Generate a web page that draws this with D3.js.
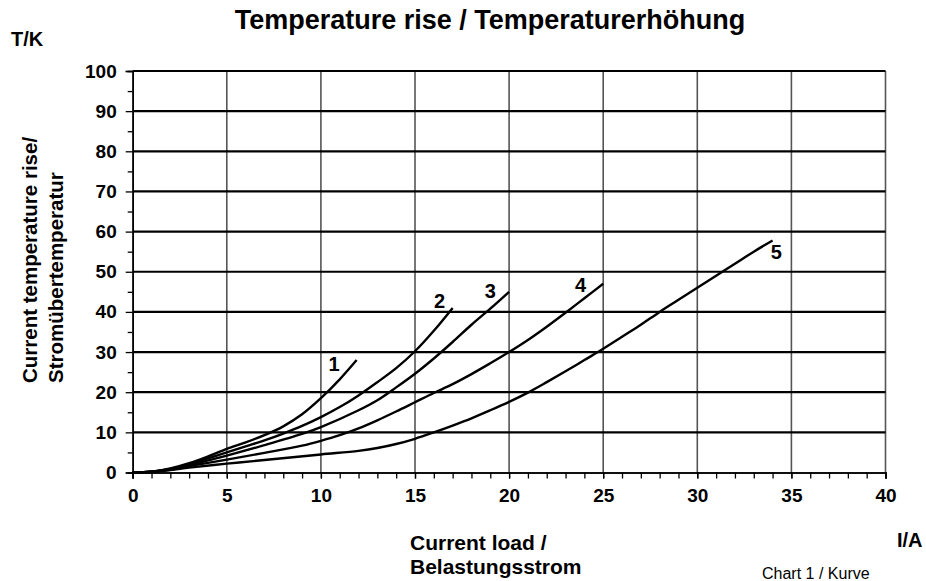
<!DOCTYPE html>
<html>
<head>
<meta charset="utf-8">
<script src="https://cdn.jsdelivr.net/npm/d3@7"></script>
<style>
  body { margin: 0; background: #fff; }
  svg { display: block; font-family: 'Liberation Sans', Arial, sans-serif; }
</style>
</head>
<body>
<div id="chart"></div>
<script>
// current load in A, temperature rise in K
const curve1 = [[0, 0], [1, 0.2], [2, 1], [3, 2.3], [4, 4], [5, 5.9], [6, 7.5], [7, 9.3], [8, 11.5], [9, 14.5], [10, 18.5], [11, 23.2], [11.9, 28]];
const curve2 = [[0, 0], [1, 0.2], [2, 0.9], [3, 2], [4, 3.5], [5, 5], [6, 6.5], [7, 8], [8, 9.7], [9, 11.6], [10, 13.8], [11, 16.3], [12, 19.2], [13, 22.5], [14, 26], [15, 30.2], [16, 35.3], [17, 41]];
const curve3 = [[0, 0], [1, 0.2], [2, 0.8], [3, 1.8], [4, 3], [5, 4.2], [7, 6.8], [9, 9.6], [10, 11.3], [12, 15.5], [13, 18], [14, 21.2], [15, 24.6], [16, 28.4], [17, 32.5], [18, 36.8], [19, 40.8], [20, 45]];
const curve4 = [[0, 0], [1, 0.2], [2, 0.7], [3, 1.6], [5, 3.2], [7, 4.9], [9, 6.7], [10, 7.9], [11, 9.3], [12, 11], [13, 13], [14, 15.2], [15, 17.5], [16, 19.8], [17, 22], [18, 24.5], [19, 27.2], [20, 30], [21, 33], [22, 36.3], [23, 39.8], [24, 43.4], [25, 47]];
const curve5 = [[0, 0], [1, 0.2], [2, 0.6], [3, 1.2], [5, 2.2], [7, 3.1], [10, 4.5], [12, 5.4], [13, 6.1], [14, 7.1], [15, 8.4], [16, 10], [17, 11.7], [18, 13.5], [19, 15.5], [20, 17.6], [21, 19.9], [22, 22.5], [23, 25.2], [24, 28], [25, 30.8], [26, 33.8], [27, 36.8], [28, 40], [29, 43], [30, 46], [31, 49], [32, 52], [33, 55], [34, 57.8]];
const curves = [curve1, curve2, curve3, curve4, curve5];

// curve number labels: [I, T, text]
const curveLabels = [[10.7, 25.3, '1'], [16.3, 40.9, '2'], [19.0, 43.4, '3'], [23.8, 45, '4'], [34.2, 53.1, '5']];

const xTicks = [0, 5, 10, 15, 20, 25, 30, 35, 40];
const xMinorTicks = d3.range(0, 41);
const yTicks = [0, 10, 20, 30, 40, 50, 60, 70, 80, 90, 100];
const yMinorTicks = [5, 15, 25, 35, 45, 55, 65, 75, 85, 95];

const width = 926;
const height = 581;
const margin = { top: 71, right: 40.5, bottom: 108.5, left: 132.7 };

const svg = d3.select('#chart').append('svg')
  .attr('width', width)
  .attr('height', height);

const x = d3.scaleLinear().domain([0, 40]).range([margin.left, width - margin.right]);
const y = d3.scaleLinear().domain([0, 100]).range([height - margin.bottom, margin.top]);

// vertical grid (grey)
svg.append('g')
  .selectAll('line')
  .data(xTicks.slice(1))
  .join('line')
  .attr('x1', d => x(d)).attr('x2', d => x(d))
  .attr('y1', y(0)).attr('y2', y(100))
  .attr('stroke', '#555')
  .attr('stroke-width', 1.6);

// horizontal grid (black)
svg.append('g')
  .selectAll('line')
  .data(yTicks.slice(1))
  .join('line')
  .attr('x1', x(0)).attr('x2', x(40))
  .attr('y1', d => y(d)).attr('y2', d => y(d))
  .attr('stroke', '#000')
  .attr('stroke-width', 2.2);

// axes
const yAxis = svg.append('g')
  .attr('transform', `translate(${x(0)},0)`)
  .call(d3.axisLeft(y).tickValues(yTicks).tickSize(7).tickPadding(9));
yAxis.append('g')
  .call(d3.axisLeft(y).tickValues(yMinorTicks).tickSize(5).tickFormat(''));

const xAxis = svg.append('g')
  .attr('transform', `translate(0,${y(0)})`)
  .call(d3.axisBottom(x).tickValues(xTicks).tickSize(6).tickPadding(10));
xAxis.append('g')
  .call(d3.axisBottom(x).tickValues(xMinorTicks).tickSize(6).tickFormat(''));

svg.selectAll('.domain').attr('stroke', '#000').attr('stroke-width', 1.6);
svg.selectAll('.tick line').attr('stroke', '#000').attr('stroke-width', 1.3);
svg.selectAll('.tick text')
  .attr('font-family', "'Liberation Sans', Arial, sans-serif")
  .attr('font-size', 19)
  .attr('font-weight', 'bold')
  .attr('fill', '#000');

// curves
const line = d3.line()
  .x(d => x(d[0]))
  .y(d => y(d[1]))
  .curve(d3.curveCatmullRom.alpha(0.5));

svg.append('g')
  .selectAll('path')
  .data(curves)
  .join('path')
  .attr('d', line)
  .attr('fill', 'none')
  .attr('stroke', '#000')
  .attr('stroke-width', 2.4);

svg.append('g')
  .selectAll('text')
  .data(curveLabels)
  .join('text')
  .attr('x', d => x(d[0]))
  .attr('y', d => y(d[1]))
  .attr('text-anchor', 'middle')
  .attr('font-size', 20)
  .attr('font-weight', 'bold')
  .text(d => d[2]);

// titles
svg.append('text')
  .attr('x', 490).attr('y', 29)
  .attr('text-anchor', 'middle')
  .attr('font-size', 27)
  .attr('font-weight', 'bold')
  .text('Temperature rise / Temperaturerhöhung');

svg.append('text')
  .attr('x', 11).attr('y', 46)
  .attr('font-size', 20)
  .attr('font-weight', 'bold')
  .text('T/K');

svg.append('text')
  .attr('x', 897).attr('y', 547)
  .attr('font-size', 20)
  .attr('font-weight', 'bold')
  .text('I/A');

const yTitle = svg.append('text')
  .attr('transform', 'translate(0,383) rotate(-90)')
  .attr('font-size', 20.5)
  .attr('font-weight', 'bold');
yTitle.append('tspan').attr('x', 0).attr('y', 37).text('Current temperature rise/');
yTitle.append('tspan').attr('x', 0).attr('y', 63).text('Stromübertemperatur');

const xTitle = svg.append('text')
  .attr('font-size', 21)
  .attr('font-weight', 'bold');
xTitle.append('tspan').attr('x', 410).attr('y', 550).text('Current load /');
xTitle.append('tspan').attr('x', 410).attr('y', 574).text('Belastungsstrom');

svg.append('text')
  .attr('x', 762).attr('y', 579)
  .attr('font-size', 16)
  .text('Chart 1 / Kurve');
</script>
</body>
</html>
